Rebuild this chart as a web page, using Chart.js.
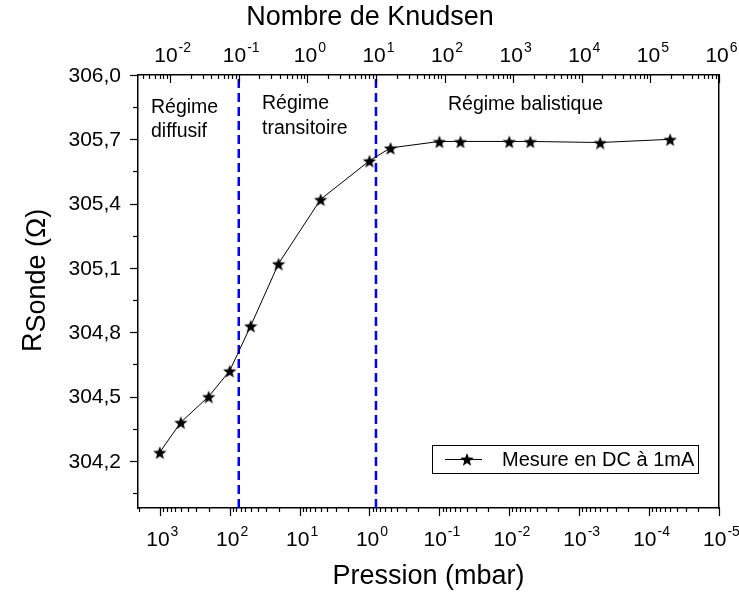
<!DOCTYPE html>
<html>
<head>
<meta charset="utf-8">
<script src="https://cdn.jsdelivr.net/npm/chart.js@4.4.0/dist/chart.umd.min.js"></script>
<style>
  html, body { margin: 0; padding: 0; background: #fff; }
</style>
</head>
<body>
<canvas id="chart" width="739" height="592"></canvas>
<script>
// données
const pressures = [1000, 500, 200, 100, 50, 20, 5, 1, 0.5, 0.1, 0.05, 0.01, 0.005, 5e-4, 5e-5];
const resistances = [304.24, 304.38, 304.50, 304.62, 304.83, 305.12, 305.42, 305.60, 305.66, 305.69, 305.69, 305.69, 305.69, 305.685, 305.70];
const regimeLimitsKn = [0.1, 10];

const pressureTickExps = [3, 2, 1, 0, -1, -2, -3, -4, -5];
const knudsenTickExps = [-2, -1, 0, 1, 2, 3, 4, 5, 6];
const yMajorTicks = [304.2, 304.5, 304.8, 305.1, 305.4, 305.7, 306.0];
const yMinorTicks = [304.05, 304.35, 304.65, 304.95, 305.25, 305.55, 305.85];

const yMin = 303.98, yMax = 306.0;
const pMin = 1e-5, pMax = 2050;
const knMin = 0.0034, knMax = 1e6;

const FONT = '"Liberation Sans", Arial, sans-serif';

// étoile pleine pour les points (Origin style)
function makeStar(size) {
  const c = document.createElement('canvas');
  c.width = c.height = size;
  const g = c.getContext('2d');
  const r = size / 2, ri = r * 0.42;
  g.beginPath();
  for (let i = 0; i < 10; i++) {
    const a = -Math.PI / 2 + i * Math.PI / 5;
    const rr = i % 2 ? ri : r;
    g.lineTo(r + rr * Math.cos(a), r + 1 + rr * Math.sin(a));
  }
  g.closePath();
  g.fillStyle = '#000';
  g.fill();
  return c;
}
const star = makeStar(14);

function drawPow(ctx, x, y, exp) {
  // "10" + exposant, centré sur x
  ctx.font = '21px ' + FONT;
  const wBase = ctx.measureText('10').width;
  ctx.font = '14px ' + FONT;
  const e = String(exp);
  const wExp = ctx.measureText(e).width;
  const x0 = x - (wBase + wExp) / 2 + 2;
  ctx.textAlign = 'left';
  ctx.textBaseline = 'alphabetic';
  ctx.font = '21px ' + FONT;
  ctx.fillText('10', x0, y);
  ctx.font = '14px ' + FONT;
  ctx.fillText(e, x0 + wBase + 1, y - 10);
}

const decorPlugin = {
  id: 'decor',
  afterDraw(chart) {
    const ctx = chart.ctx;
    const a = chart.chartArea;
    const sx = chart.scales.x, sx2 = chart.scales.x2, sy = chart.scales.y;
    ctx.save();
    ctx.strokeStyle = '#000';
    ctx.fillStyle = '#000';
    ctx.lineWidth = 1.2;

    // graduations axe Y (vers l'extérieur)
    yMajorTicks.forEach(v => {
      const py = Math.round(sy.getPixelForValue(v)) + 0.5;
      ctx.beginPath(); ctx.moveTo(a.left - 8, py); ctx.lineTo(a.left, py); ctx.stroke();
    });
    yMinorTicks.forEach(v => {
      const py = Math.round(sy.getPixelForValue(v)) + 0.5;
      ctx.beginPath(); ctx.moveTo(a.left - 5, py); ctx.lineTo(a.left, py); ctx.stroke();
    });

    // graduations axe pression (bas, vers l'extérieur)
    for (let e = -6; e <= 3; e++) {
      for (let k = 1; k <= 9; k++) {
        const v = k * Math.pow(10, e);
        if (v < pMin || v > pMax) continue;
        const px = Math.round(sx.getPixelForValue(v)) + 0.5;
        const len = k === 1 ? 8 : 4;
        ctx.beginPath(); ctx.moveTo(px, a.bottom); ctx.lineTo(px, a.bottom + len); ctx.stroke();
      }
    }
    // graduations axe Knudsen (haut, vers l'intérieur)
    for (let e = -3; e <= 6; e++) {
      for (let k = 1; k <= 9; k++) {
        const v = k * Math.pow(10, e);
        if (v < knMin || v > knMax) continue;
        const px = Math.round(sx2.getPixelForValue(v)) + 0.5;
        const len = k === 1 ? 8 : 4;
        ctx.beginPath(); ctx.moveTo(px, a.top); ctx.lineTo(px, a.top + len); ctx.stroke();
      }
    }

    // libellés Y
    ctx.font = '21px ' + FONT;
    ctx.textAlign = 'right';
    ctx.textBaseline = 'middle';
    yMajorTicks.forEach(v => {
      ctx.fillText(v.toFixed(1).replace('.', ','), a.left - 17, sy.getPixelForValue(v) + 1);
    });

    // libellés pression et Knudsen
    pressureTickExps.forEach(e => drawPow(ctx, sx.getPixelForValue(Math.pow(10, e)), a.bottom + 38, e));
    knudsenTickExps.forEach(e => drawPow(ctx, sx2.getPixelForValue(Math.pow(10, e)), a.top - 13, e));

    // titres des axes
    ctx.font = '27px ' + FONT;
    ctx.textAlign = 'center';
    ctx.textBaseline = 'middle';
    ctx.fillText('Nombre de Knudsen', 370, 18);
    ctx.fillText('Pression (mbar)', (a.left + a.right) / 2, 577);

    ctx.save();
    ctx.translate(41, 352);
    ctx.rotate(-Math.PI / 2);
    ctx.textAlign = 'left';
    ctx.textBaseline = 'alphabetic';
    ctx.font = '27px ' + FONT;
    ctx.fillText('R', 0, 0);
    const wR = ctx.measureText('R').width;
    ctx.fillText('Sonde (Ω)', wR, 4);
    ctx.restore();

    // textes des régimes
    ctx.font = '19.5px ' + FONT;
    ctx.textAlign = 'left';
    ctx.textBaseline = 'middle';
    ctx.fillText('Régime', 151, 108);
    ctx.fillText('diffusif', 151, 132);
    ctx.fillText('Régime', 262, 104);
    ctx.fillText('transitoire', 262, 129);
    ctx.fillText('Régime balistique', 448, 105);

    // légende
    ctx.lineWidth = 1;
    ctx.strokeRect(432.5, 445.5, 266, 28);
    ctx.beginPath(); ctx.moveTo(445, 459.5); ctx.lineTo(482, 459.5); ctx.stroke();
    ctx.drawImage(star, 467 - 7, 459 - 7);
    ctx.font = '20px ' + FONT;
    ctx.fillText('Mesure en DC à 1mA', 502, 460);

    ctx.restore();
  }
};

const axisBorder = { display: true, color: '#000', width: 1.5 };

new Chart(document.getElementById('chart'), {
  type: 'line',
  data: {
    datasets: [
      {
        label: 'Mesure en DC à 1mA',
        data: pressures.map((p, i) => ({ x: p, y: resistances[i] })),
        xAxisID: 'x',
        yAxisID: 'y',
        borderColor: '#000',
        borderWidth: 1,
        pointStyle: star,
        pointRadius: 7,
        tension: 0
      },
      ...regimeLimitsKn.map(kn => ({
        label: 'limite',
        data: [{ x: kn, y: yMin }, { x: kn, y: yMax }],
        xAxisID: 'x2',
        yAxisID: 'y',
        borderColor: '#0000ff',
        borderWidth: 2.5,
        borderDash: [9, 5],
        pointRadius: 0
      }))
    ]
  },
  options: {
    responsive: false,
    animation: false,
    layout: { padding: 0 },
    plugins: {
      legend: { display: false },
      tooltip: { enabled: false }
    },
    scales: {
      x: {
        type: 'logarithmic', position: 'bottom', reverse: true,
        min: pMin, max: pMax,
        ticks: { display: false }, grid: { display: false }, border: axisBorder,
        afterFit: s => { s.height = 84; }
      },
      x2: {
        type: 'logarithmic', position: 'top',
        min: knMin, max: knMax,
        ticks: { display: false }, grid: { display: false }, border: axisBorder,
        afterFit: s => { s.height = 75; }
      },
      y: {
        type: 'linear', position: 'left',
        min: yMin, max: yMax,
        ticks: { display: false }, grid: { display: false }, border: axisBorder,
        afterFit: s => { s.width = 138; }
      },
      y2: {
        type: 'linear', position: 'right',
        min: yMin, max: yMax,
        ticks: { display: false }, grid: { display: false }, border: axisBorder,
        afterFit: s => { s.width = 20; }
      }
    }
  },
  plugins: [decorPlugin]
});
</script>
</body>
</html>
